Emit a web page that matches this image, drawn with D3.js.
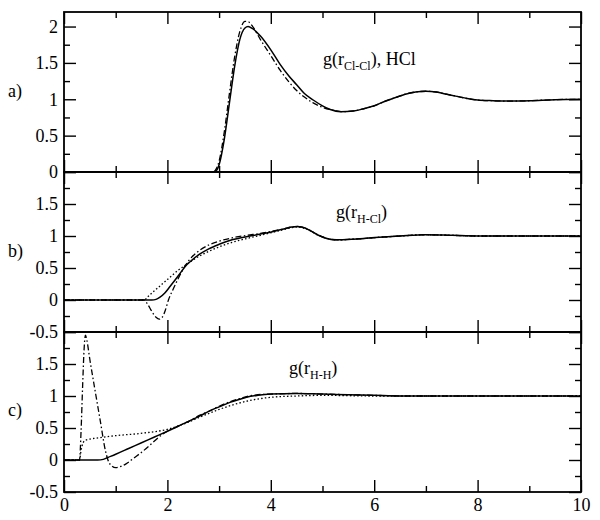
<!DOCTYPE html>
<html>
<head>
<meta charset="utf-8">
<script src="https://cdn.jsdelivr.net/npm/d3@7"></script>
<style>
  body { margin: 0; background: #fff; }
  text { font-family: "Liberation Serif", "Times New Roman", "DejaVu Serif", serif; fill: #000; }
</style>
</head>
<body>
<div id="chart"></div>
<script>
// g(r) curves, [r, g]
const clclSolid = [[0,0],[2.9,0],[2.95,0.02],[3.0,0.1],[3.1,0.45],[3.2,0.95],[3.3,1.45],[3.4,1.82],[3.5,1.98],[3.56,2.0],[3.65,1.97],[3.8,1.87],[4.0,1.68],[4.18,1.48],[4.35,1.32],[4.5,1.2],[4.65,1.08],[4.82,0.99],[5.0,0.91],[5.15,0.86],[5.35,0.83],[5.6,0.84],[5.8,0.87],[6.0,0.91],[6.2,0.97],[6.4,1.02],[6.6,1.07],[6.8,1.1],[7.0,1.11],[7.2,1.1],[7.4,1.07],[7.6,1.04],[7.8,1.01],[8.0,0.99],[8.3,0.98],[8.6,0.975],[9.0,0.98],[9.5,0.995],[10,1.0]];
const clclDashDot = [[0,0],[2.88,0],[2.95,0.05],[3.0,0.15],[3.1,0.55],[3.2,1.08],[3.3,1.58],[3.4,1.93],[3.5,2.07],[3.55,2.07],[3.65,2.0],[3.8,1.82],[4.0,1.6],[4.18,1.4],[4.35,1.24],[4.5,1.12],[4.65,1.03],[4.82,0.95],[5.0,0.89],[5.2,0.85],[5.4,0.83],[5.6,0.84],[5.8,0.87],[6.0,0.91],[6.2,0.97],[6.4,1.02],[6.6,1.07],[6.8,1.1],[7.0,1.11],[7.2,1.1],[7.4,1.07],[7.6,1.04],[7.8,1.01],[8.0,0.99],[8.3,0.98],[8.6,0.975],[9.0,0.98],[9.5,0.995],[10,1.0]];

const hclSolid = [[0,0],[1.7,0],[1.78,0.01],[1.85,0.04],[1.95,0.11],[2.05,0.21],[2.24,0.41],[2.34,0.52],[2.47,0.62],[2.63,0.72],[2.8,0.8],[3.0,0.87],[3.25,0.94],[3.53,0.99],[3.8,1.03],[4.05,1.07],[4.25,1.11],[4.4,1.14],[4.5,1.15],[4.6,1.14],[4.75,1.09],[4.9,1.02],[5.05,0.97],[5.27,0.94],[5.6,0.95],[6.1,0.98],[6.5,1.0],[7.0,1.02],[7.5,1.01],[8.0,1.0],[9.0,1.0],[10,1.0]];
const hclDotted = [[0,0],[1.55,0],[1.62,0.05],[1.7,0.11],[1.8,0.18],[1.9,0.25],[2.0,0.32],[2.2,0.46],[2.34,0.54],[2.5,0.63],[2.7,0.72],[3.0,0.83],[3.25,0.9],[3.53,0.96],[3.8,1.01],[4.05,1.06],[4.25,1.1],[4.4,1.13],[4.5,1.14],[4.6,1.13],[4.75,1.09],[4.9,1.02],[5.05,0.97],[5.27,0.94],[5.6,0.95],[6.1,0.98],[6.5,1.0],[7.0,1.02],[7.5,1.01],[8,1],[9,1],[10,1]];
const hclDashDot = [[0,0],[1.55,0],[1.62,-0.07],[1.7,-0.18],[1.78,-0.27],[1.84,-0.3],[1.9,-0.27],[1.96,-0.16],[2.02,0.0],[2.1,0.15],[2.2,0.32],[2.34,0.53],[2.47,0.67],[2.63,0.78],[2.8,0.86],[3.0,0.92],[3.25,0.97],[3.53,1.01],[3.8,1.04],[4.05,1.08],[4.25,1.11],[4.4,1.14],[4.5,1.15],[4.6,1.14],[4.75,1.09],[4.9,1.02],[5.05,0.97],[5.27,0.94],[5.6,0.95],[6.1,0.98],[6.5,1.0],[7.0,1.02],[7.5,1.01],[8,1],[9,1],[10,1]];

const hhSolid = [[0,0],[0.65,0],[0.76,0.01],[0.85,0.04],[1.0,0.09],[1.25,0.18],[1.5,0.27],[1.75,0.36],[2.0,0.45],[2.24,0.54],[2.45,0.62],[2.63,0.69],[2.85,0.78],[3.0,0.83],[3.21,0.9],[3.4,0.95],[3.53,0.98],[3.75,1.01],[4.0,1.03],[4.5,1.04],[5.0,1.03],[5.5,1.02],[6.0,1.01],[6.5,1.0],[10,1.0]];
const hhDotted = [[0,0],[0.3,0],[0.33,0.15],[0.37,0.27],[0.42,0.31],[0.7,0.35],[1.0,0.38],[1.53,0.42],[2.0,0.48],[2.37,0.58],[2.63,0.67],[3.0,0.79],[3.3,0.87],[3.6,0.93],[4.0,0.98],[4.5,1.0],[5.0,1.01],[6.0,1.0],[10,1.0]];
const hhDashDot = [[0,0],[0.3,0],[0.33,0.45],[0.36,1.15],[0.39,1.75],[0.415,1.95],[0.44,1.88],[0.5,1.57],[0.6,1.09],[0.7,0.62],[0.8,0.15],[0.85,0.0],[0.92,-0.09],[1.0,-0.12],[1.1,-0.1],[1.2,-0.06],[1.35,0.03],[1.5,0.12],[1.7,0.26],[1.9,0.4],[2.0,0.45],[2.24,0.54],[2.45,0.62],[2.63,0.7],[2.85,0.78],[3.0,0.84],[3.21,0.91],[3.4,0.96],[3.53,0.99],[3.75,1.02],[4.0,1.03],[4.5,1.04],[5.0,1.03],[5.5,1.02],[6.0,1.01],[6.5,1.0],[10,1.0]];

const xTicks = [0, 2, 4, 6, 8, 10];
const panelLabels = ["a)", "b)", "c)"];
const annotations = [["g(r", "Cl-Cl", "), HCl"], ["g(r", "H-Cl", ")"], ["g(r", "H-H", ")"]];
const yLabelsA = [0, 0.5, 1, 1.5, 2];
const yLabelsB = [-0.5, 0, 0.5, 1, 1.5];
const yLabelsC = [-0.5, 0, 0.5, 1, 1.5];

const W = 600, H = 520;
const left = 64, right = 581;

const panels = [
  {top: 12,  bottom: 172, domain: [0, 2.2],  labels: yLabelsA, labelY: 97,  annX: 323, annY: 65,
   series: [{d: clclSolid, s: "solid"}, {d: clclDashDot, s: "dashdot"}]},
  {top: 172, bottom: 332, domain: [-0.5, 2], labels: yLabelsB, labelY: 257, annX: 336, annY: 218,
   series: [{d: hclSolid, s: "solid"}, {d: hclDotted, s: "dotted"}, {d: hclDashDot, s: "dashdot"}]},
  {top: 332, bottom: 492, domain: [-0.5, 2], labels: yLabelsC, labelY: 416, annX: 289, annY: 374,
   series: [{d: hhSolid, s: "solid"}, {d: hhDotted, s: "dotted"}, {d: hhDashDot, s: "dashdot"}]}
];

const dash = {solid: null, dotted: "1.5,2.2", dashdot: "6,2.5,1.5,2.5"};

const svg = d3.select("#chart").append("svg")
  .attr("width", W)
  .attr("height", H);

const x = d3.scaleLinear().domain([0, 10]).range([left, right]);

function range(a, b, step) {
  let out = [];
  for (let v = a; v <= b + 1e-9; v += step) out.push(Math.round(v * 100) / 100);
  return out;
}

function styleAxis(g) {
  g.select(".domain").remove();
  g.selectAll("line").attr("stroke", "#000").attr("stroke-width", 1.4);
  g.selectAll("text").attr("font-size", 18).attr("fill", "#000");
  g.attr("font-family", null).attr("font-size", null);
}

panels.forEach((p, i) => {
  const y = d3.scaleLinear().domain(p.domain).range([p.bottom, p.top]);
  const yMajor = range(Math.ceil(p.domain[0] * 2) / 2, p.domain[1], 0.5);
  const yMinor = range(p.domain[0], p.domain[1], 0.25).filter(v => !yMajor.includes(v));
  const xMinor = [1, 3, 5, 7, 9];

  // left axis
  svg.append("g")
    .attr("transform", "translate(" + left + ",0)")
    .call(d3.axisLeft(y).tickValues(yMajor).tickSize(-12).tickPadding(6)
      .tickFormat(d => p.labels.includes(d) ? String(d) : ""))
    .call(styleAxis);
  svg.append("g")
    .attr("transform", "translate(" + left + ",0)")
    .call(d3.axisLeft(y).tickValues(yMinor).tickSize(-6).tickFormat(""))
    .call(styleAxis);

  // right axis
  svg.append("g")
    .attr("transform", "translate(" + right + ",0)")
    .call(d3.axisRight(y).tickValues(yMajor).tickSize(-12).tickFormat(""))
    .call(styleAxis);
  svg.append("g")
    .attr("transform", "translate(" + right + ",0)")
    .call(d3.axisRight(y).tickValues(yMinor).tickSize(-6).tickFormat(""))
    .call(styleAxis);

  // top axis
  svg.append("g")
    .attr("transform", "translate(0," + p.top + ")")
    .call(d3.axisTop(x).tickValues(xTicks).tickSize(-12).tickFormat(""))
    .call(styleAxis);
  svg.append("g")
    .attr("transform", "translate(0," + p.top + ")")
    .call(d3.axisTop(x).tickValues(xMinor).tickSize(-6).tickFormat(""))
    .call(styleAxis);

  // bottom axis
  svg.append("g")
    .attr("transform", "translate(0," + p.bottom + ")")
    .call(d3.axisBottom(x).tickValues(xTicks).tickSize(-12).tickPadding(6)
      .tickFormat(d => i === 2 ? String(d) : ""))
    .call(styleAxis);
  svg.append("g")
    .attr("transform", "translate(0," + p.bottom + ")")
    .call(d3.axisBottom(x).tickValues(xMinor).tickSize(-6).tickFormat(""))
    .call(styleAxis);

  // clip
  svg.append("clipPath").attr("id", "clip" + i)
    .append("rect")
      .attr("x", left).attr("y", p.top)
      .attr("width", right - left).attr("height", p.bottom - p.top);

  const line = d3.line()
    .x(d => x(d[0]))
    .y(d => y(d[1]))
    .curve(d3.curveMonotoneX);

  svg.append("g")
    .attr("clip-path", "url(#clip" + i + ")")
    .selectAll("path")
    .data(p.series)
    .enter()
    .append("path")
      .attr("d", s => line(s.d))
      .attr("fill", "none")
      .attr("stroke", "#000")
      .attr("stroke-width", s => s.s === "solid" ? 1.5 : 1.3)
      .attr("stroke-dasharray", s => dash[s.s]);

  // frame
  svg.append("rect")
    .attr("x", left).attr("y", p.top)
    .attr("width", right - left).attr("height", p.bottom - p.top)
    .attr("fill", "none")
    .attr("stroke", "#000")
    .attr("stroke-width", 1.8);

  // panel letter
  svg.append("text")
    .attr("x", 8)
    .attr("y", p.labelY)
    .attr("font-size", 18)
    .text(panelLabels[i]);

  // annotation with subscript
  const ann = svg.append("text")
    .attr("x", p.annX)
    .attr("y", p.annY)
    .attr("font-size", 18);
  ann.append("tspan").text(annotations[i][0]);
  ann.append("tspan").attr("font-size", 12).attr("dy", 5).text(annotations[i][1]);
  ann.append("tspan").attr("font-size", 18).attr("dy", -5).text(annotations[i][2]);
});
</script>
</body>
</html>
